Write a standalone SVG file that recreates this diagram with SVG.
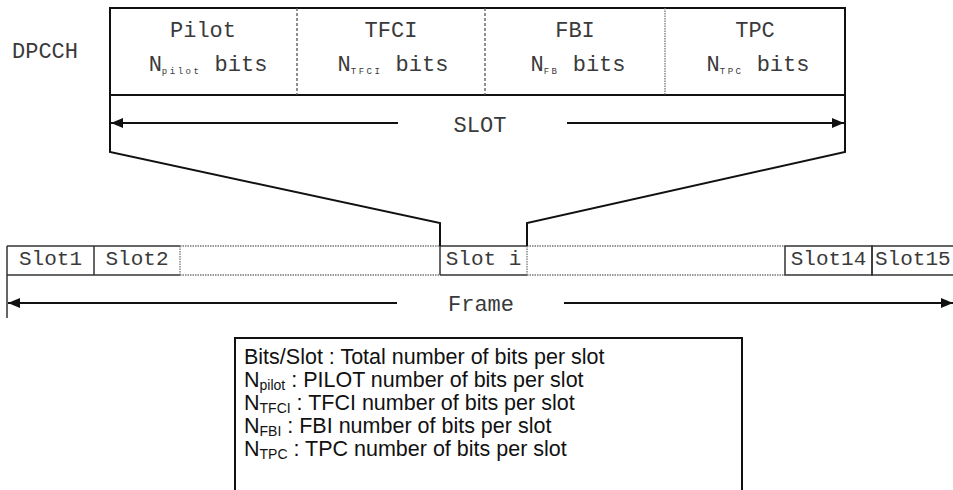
<svg xmlns="http://www.w3.org/2000/svg" width="953" height="490" viewBox="0 0 953 490">
  <style>
    .mono { font-family: "Liberation Mono", "DejaVu Sans Mono", monospace; fill: #3a3a3a; }
    .big { font-size: 22px; }
    .slot { font-size: 21px; }
    .sub { font-size: 9px; letter-spacing: 2.5px; }
    .sans { font-family: "Liberation Sans", Arial, sans-serif; font-size: 21.5px; fill: #111; }
    .ssub { font-size: 14px; }
    .frame { fill: none; stroke: #111; stroke-width: 2; }
    .thin { fill: none; stroke: #333; stroke-width: 1.5; }
    .dash { fill: none; stroke: #555; stroke-width: 1.3; stroke-dasharray: 3 2; }
    .dot { fill: none; stroke: #777; stroke-width: 1.3; stroke-dasharray: 1.5 1; }
    .conn { fill: none; stroke: #111; stroke-width: 2; }
  </style>
  <defs>
    <marker id="arrow" viewBox="0 0 12 10" refX="12" refY="5" markerWidth="12" markerHeight="10" markerUnits="userSpaceOnUse" orient="auto">
      <path d="M0,0 L12,5 L0,10 Z" fill="#111"/>
    </marker>
  </defs>
  <rect width="953" height="490" fill="#fff"/>

  <!-- channel label -->
  <g id="dpcch-label">
    <text class="mono big" x="12" y="58">DPCCH</text>
  </g>

  <!-- DPCCH slot fields -->
  <g id="dpcch-fields">
    <rect class="frame" x="110" y="8" width="735" height="87"/>
    <line class="dash" x1="297" y1="8" x2="297" y2="95"/>
    <line class="dash" x1="485" y1="8" x2="485" y2="95"/>
    <line class="dot" x1="665" y1="8" x2="665" y2="95"/>
  </g>
  <g id="field-pilot">
    <text class="mono big" x="203" y="37" text-anchor="middle">Pilot</text>
    <text class="mono big" x="208" y="71" text-anchor="middle">N<tspan class="sub" dy="3">pilot</tspan><tspan dy="-3"> bits</tspan></text>
  </g>
  <g id="field-tfci">
    <text class="mono big" x="391" y="37" text-anchor="middle">TFCI</text>
    <text class="mono big" x="393" y="71" text-anchor="middle">N<tspan class="sub" dy="3">TFCI</tspan><tspan dy="-3"> bits</tspan></text>
  </g>
  <g id="field-fbi">
    <text class="mono big" x="575" y="37" text-anchor="middle">FBI</text>
    <text class="mono big" x="578" y="71" text-anchor="middle">N<tspan class="sub" dy="3">FB</tspan><tspan dy="-3">  bits</tspan></text>
  </g>
  <g id="field-tpc">
    <text class="mono big" x="755" y="37" text-anchor="middle">TPC</text>
    <text class="mono big" x="758" y="71" text-anchor="middle">N<tspan class="sub" dy="3">TPC</tspan><tspan dy="-3"> bits</tspan></text>
  </g>

  <!-- frame of 15 slots -->
  <g id="slot-row">
    <line class="thin" x1="7" y1="246" x2="180" y2="246"/>
    <line class="thin" x1="7" y1="275" x2="180" y2="275"/>
    <line class="thin" x1="7" y1="246" x2="7" y2="275"/>
    <line class="thin" x1="94" y1="246" x2="94" y2="275"/>
    <line class="dot" x1="180" y1="246" x2="180" y2="275"/>
    <line class="dot" x1="180" y1="246" x2="440" y2="246"/>
    <line class="dot" x1="180" y1="275" x2="440" y2="275"/>
    <line class="dot" x1="527" y1="246" x2="785" y2="246"/>
    <line class="dot" x1="527" y1="275" x2="785" y2="275"/>
  </g>
  <g id="slot1"><text class="mono slot" x="50.5" y="265" text-anchor="middle">Slot1</text></g>
  <g id="slot2"><text class="mono slot" x="137" y="265" text-anchor="middle">Slot2</text></g>
  <g id="slot-i">
    <line class="thin" x1="440" y1="246" x2="527" y2="246"/>
    <line class="thin" x1="440" y1="275" x2="527" y2="275"/>
    <line class="thin" x1="440" y1="246" x2="440" y2="275"/>
    <line class="dot" x1="527" y1="246" x2="527" y2="275"/>
    <text class="mono slot" x="483.5" y="265" text-anchor="middle">Slot i</text>
  </g>
  <g id="slot14">
    <rect class="thin" x="785" y="246" width="87" height="29"/>
    <text class="mono slot" x="828.5" y="265" text-anchor="middle">Slot14</text>
  </g>
  <g id="slot15">
    <rect class="thin" x="872" y="246" width="90" height="29"/>
    <text class="mono slot" x="875" y="265">Slot15</text>
  </g>

  <!-- dimension arrows and zoom-out lines -->
  <g id="connectors">
    <polyline class="conn" points="110,95 110,152 440,223 440,246"/>
    <polyline class="conn" points="845,95 845,152 527,223 527,246"/>
    <line class="conn" x1="398" y1="123" x2="111" y2="123" marker-end="url(#arrow)"/>
    <line class="conn" x1="567" y1="123" x2="844" y2="123" marker-end="url(#arrow)"/>
    <line class="thin" x1="7" y1="275" x2="7" y2="318"/>
    <line class="conn" x1="397" y1="303" x2="8" y2="303" marker-end="url(#arrow)"/>
    <line class="conn" x1="564" y1="303" x2="953" y2="303" marker-end="url(#arrow)"/>
  </g>
  <g id="slot-label"><text class="mono big" x="480" y="132" text-anchor="middle">SLOT</text></g>
  <g id="frame-label"><text class="mono big" x="481" y="311" text-anchor="middle">Frame</text></g>

  <!-- legend -->
  <g id="legend">
    <polyline class="frame" points="235,490 235,338 742,338 742,490"/>
    <text class="sans" x="244" y="364">Bits/Slot : Total number of bits per slot</text>
    <text class="sans" x="244" y="387">N<tspan class="ssub" dy="3">pilot</tspan><tspan dy="-3"> : PILOT number of bits per slot</tspan></text>
    <text class="sans" x="244" y="410">N<tspan class="ssub" dy="3">TFCI</tspan><tspan dy="-3"> : TFCI number of bits per slot</tspan></text>
    <text class="sans" x="244" y="433">N<tspan class="ssub" dy="3">FBI</tspan><tspan dy="-3"> : FBI number of bits per slot</tspan></text>
    <text class="sans" x="244" y="456">N<tspan class="ssub" dy="3">TPC</tspan><tspan dy="-3"> : TPC number of bits per slot</tspan></text>
  </g>
</svg>
